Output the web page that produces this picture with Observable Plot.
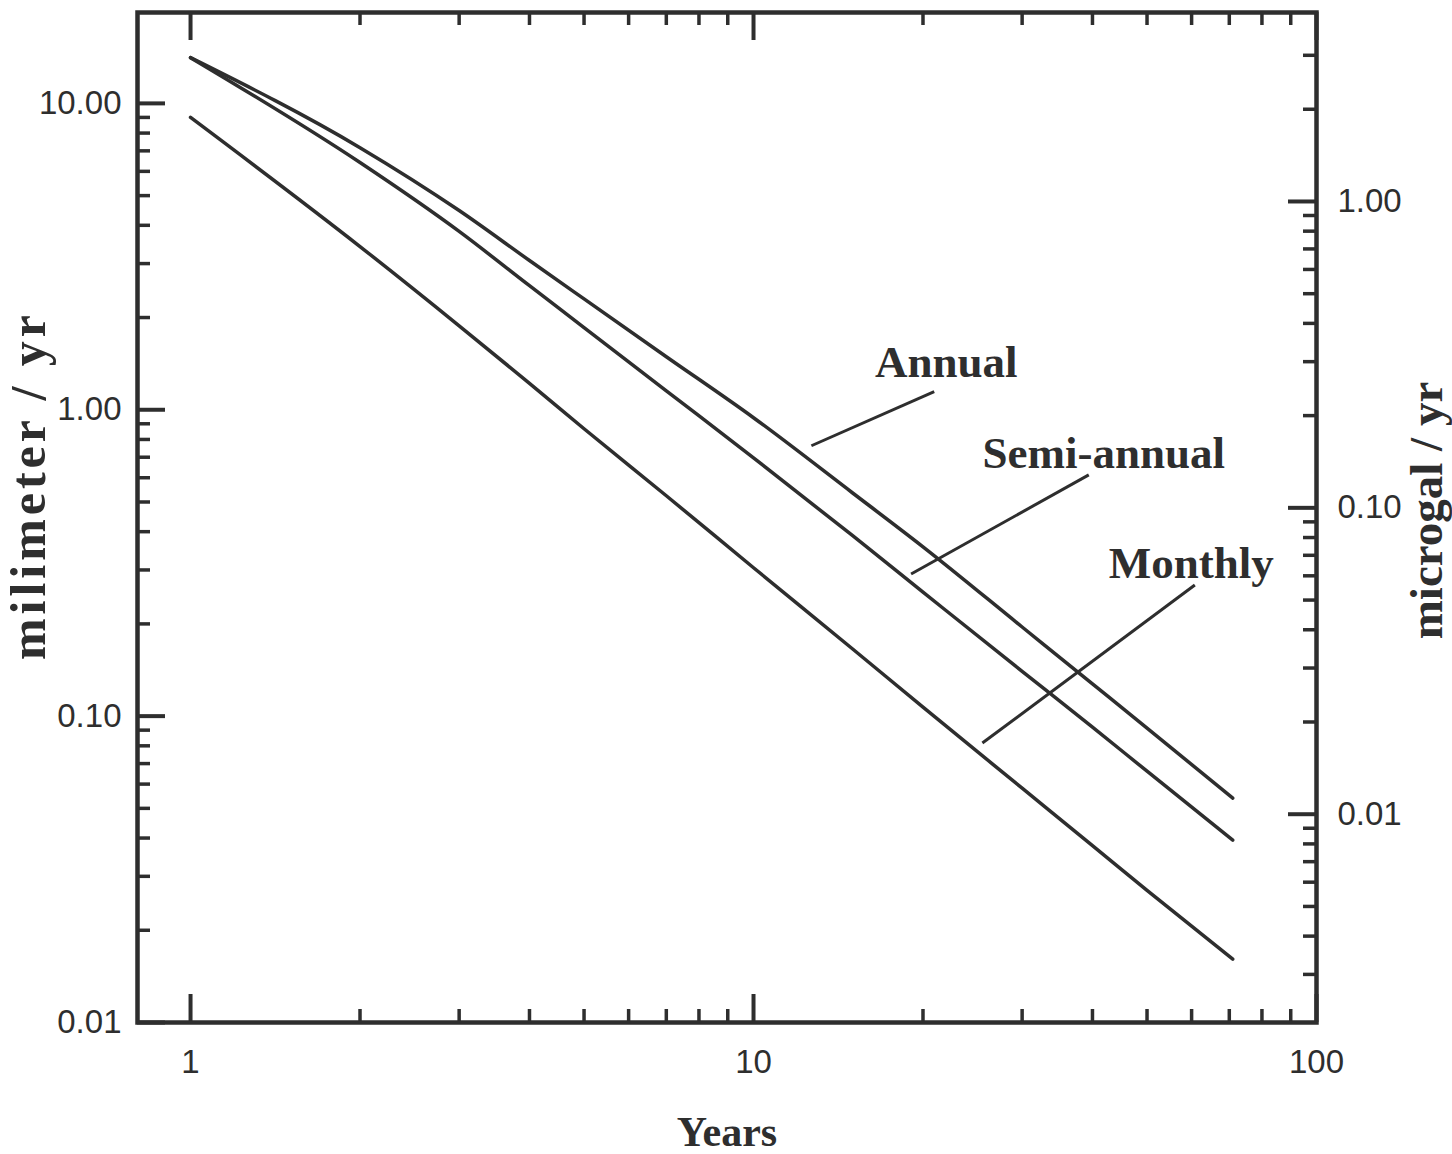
<!DOCTYPE html>
<html><head><meta charset="utf-8">
<script src="https://cdn.jsdelivr.net/npm/d3@7"></script>
<script src="https://cdn.jsdelivr.net/npm/@observablehq/plot@0.6"></script>
<style>body{margin:0;background:#fff}</style>
</head><body><div id="chart"></div>
<script>
// ---- data ----
const years      = [1, 2, 3, 4, 5, 7, 10, 15, 20, 30, 40, 50, 71];
const annual     = [14.1, 7.17, 4.47, 3.07, 2.30, 1.49, 0.942, 0.535, 0.357, 0.1954, 0.1274, 0.0914, 0.0540];
const semiAnnual = [14.1, 6.41, 3.82, 2.54, 1.855, 1.153, 0.697, 0.388, 0.254, 0.140, 0.0921, 0.0661, 0.0394];
const monthly    = [9.0, 3.41, 1.88, 1.22, 0.867, 0.524, 0.305, 0.1656, 0.107, 0.0582, 0.0378, 0.0270, 0.0161];

const seriesNames = ["Annual", "Semi-annual", "Monthly"];
// label positions (years, mm/yr) and leader line ends
const labelYear  = [22.0, 41.9, 59.9];
const labelValue = [1.28, 0.646, 0.2825];
const leaderFrom = [[12.67, 0.763], [19.05, 0.291], [25.5, 0.0817]];
const leaderTo   = [[20.94, 1.145], [39.4, 0.613], [60.8, 0.268]];

const mmMajor   = [0.01, 0.1, 1, 10];
const mmMinor   = [0.02,0.03,0.04,0.05,0.06,0.07,0.08,0.09,0.2,0.3,0.4,0.5,0.6,0.7,0.8,0.9,2,3,4,5,6,7,8,9];
const yearMajor = [1, 10, 100];
const yearMinor = [2,3,4,5,6,7,8,9,20,30,40,50,60,70,80,90];
const ugalMajor = [0.01, 0.1, 1];
const ugalMinor = [0.003,0.004,0.005,0.006,0.007,0.008,0.009,0.02,0.03,0.04,0.05,0.06,0.07,0.08,0.09,0.2,0.3,0.4,0.5,0.6,0.7,0.8,0.9,2,3];
const microgalPerMm = 0.209;

// ---- build table ----
const rows = [];
years.forEach((yr, i) => {
  rows.push({year: yr, value: annual[i], series: "Annual"});
  rows.push({year: yr, value: semiAnnual[i], series: "Semi-annual"});
  rows.push({year: yr, value: monthly[i], series: "Monthly"});
});
const labels = seriesNames.map((s, i) => ({text: s, x: labelYear[i], y: labelValue[i]}));
const leaders = seriesNames.map((s, i) => ({x1: leaderFrom[i][0], y1: leaderFrom[i][1], x2: leaderTo[i][0], y2: leaderTo[i][1]}));

const W = 1452, H = 1154;
const mL = 137, mR = 136, mT = 12, mB = 132;
const fw = W - mL - mR, fh = H - mT - mB;
const ink = "#2e2e2e";
const serif = "Liberation Serif, Times New Roman, serif";
const sans = "Liberation Sans, Arial, sans-serif";
const majorLen = 28, minorLen = 13;

const chart = Plot.plot({
  width: W, height: H,
  marginLeft: mL, marginRight: mR, marginTop: mT, marginBottom: mB,
  style: {background: "#fff", color: ink},
  x: {type: "log", domain: [0.805, 100]},
  y: {type: "log", domain: [0.01, 19.8]},
  marks: [
    // ticks (inward)
    Plot.ruleY(mmMajor, {y: d => d, insetRight: fw - majorLen, stroke: ink, strokeWidth: 4}),
    Plot.ruleY(mmMinor, {y: d => d, insetRight: fw - minorLen, stroke: ink, strokeWidth: 3.5}),
    Plot.ruleY(ugalMajor, {y: d => d / microgalPerMm, insetLeft: fw - majorLen, stroke: ink, strokeWidth: 4}),
    Plot.ruleY(ugalMinor, {y: d => d / microgalPerMm, insetLeft: fw - minorLen, stroke: ink, strokeWidth: 3.5}),
    Plot.ruleX(yearMajor, {x: d => d, insetTop: fh - majorLen, stroke: ink, strokeWidth: 4}),
    Plot.ruleX(yearMinor, {x: d => d, insetTop: fh - minorLen, stroke: ink, strokeWidth: 3.5}),
    Plot.ruleX(yearMajor, {x: d => d, insetBottom: fh - majorLen, stroke: ink, strokeWidth: 4}),
    Plot.ruleX(yearMinor, {x: d => d, insetBottom: fh - minorLen, stroke: ink, strokeWidth: 3.5}),
    // tick labels
    Plot.axisY(mmMajor, {anchor: "left", tickSize: 0, tickPadding: 16, tickFormat: d => d3.format(".2f")(d), fontSize: 33, fontFamily: sans, label: null}),
    Plot.axisY(ugalMajor.map(v => v / microgalPerMm), {anchor: "right", tickSize: 0, tickPadding: 21, tickFormat: d => (d * microgalPerMm).toFixed(2), fontSize: 33, fontFamily: sans, label: null}),
    Plot.axisX(yearMajor, {anchor: "bottom", tickSize: 0, tickPadding: 27, tickFormat: d => String(d), fontSize: 33, fontFamily: sans, label: null}),
    // curves
    Plot.line(rows, {x: "year", y: "value", z: "series", stroke: ink, strokeWidth: 3.5, curve: "monotone-x"}),
    // leaders & labels
    Plot.link(leaders, {x1: "x1", y1: "y1", x2: "x2", y2: "y2", stroke: ink, strokeWidth: 3}),
    Plot.text(labels, {x: "x", y: "y", text: "text", textAnchor: "middle", lineAnchor: "bottom", fontSize: 45, fontWeight: "bold", fontFamily: serif, fill: ink}),
    // axis titles
    Plot.text(["milimeter / yr"], {text: d => d, frameAnchor: "left", textAnchor: "middle", lineAnchor: "middle", dx: -109, dy: -30, rotate: -90, fontSize: 50, fontWeight: "bold", fontFamily: serif, fill: ink, className: "ylab-left"}),
    Plot.text(["microgal / yr"], {text: d => d, frameAnchor: "right", textAnchor: "middle", lineAnchor: "middle", dx: 110, dy: -7, rotate: -90, fontSize: 47, fontWeight: "bold", fontFamily: serif, fill: ink}),
    Plot.text(["Years"], {text: d => d, frameAnchor: "bottom", textAnchor: "middle", lineAnchor: "middle", dy: 110, fontSize: 42, fontWeight: "bold", fontFamily: serif, fill: ink}),
    Plot.frame({stroke: ink, strokeWidth: 4.5})
  ]
});
// the left title is set a little wider in the original
chart.querySelectorAll(".ylab-left text").forEach(t => {
  t.setAttribute("textLength", 345);
  t.setAttribute("lengthAdjust", "spacing");
});
document.getElementById("chart").appendChild(chart);
</script>
</body></html>
